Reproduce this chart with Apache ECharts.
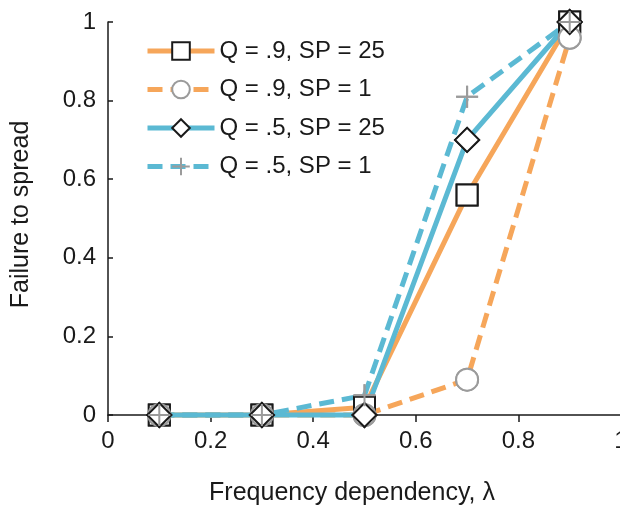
<!DOCTYPE html>
<html>
<head>
<meta charset="utf-8">
<script src="https://cdn.jsdelivr.net/npm/echarts@6/dist/echarts.min.js"></script>
<style>html,body{margin:0;padding:0;background:#fff}#c{width:620px;height:512px}</style>
</head>
<body>
<div id="c"></div>
<script>
// Data
var lambdas = [0.1, 0.3, 0.5, 0.7, 0.9];
var seriesNames = ['Q = .9, SP = 25', 'Q = .9, SP = 1', 'Q = .5, SP = 25', 'Q = .5, SP = 1'];
var q9sp25 = [0, 0, 0.02, 0.56, 1.0];
var q9sp1  = [0, 0, 0, 0.09, 0.96];
var q5sp25 = [0, 0, 0, 0.70, 1.0];
var q5sp1  = [0, 0, 0.05, 0.81, 1.0];
var xTicks = [0, 0.2, 0.4, 0.6, 0.8, 1];
var yTicks = [0, 0.2, 0.4, 0.6, 0.8, 1];

var ORANGE = '#F6A65A', BLUE = '#5BB9D3', GRAY = '#9b9b9b', BLACK = '#1a1a1a';
var PLUS = 'path://M0,-10L0,10M-10,0L10,0';

function pairs(vals){ return lambdas.map(function(x,i){ return [x, vals[i]]; }); }

var defs = [
  {name: seriesNames[0], data: q9sp25, color: ORANGE, dash: 'solid', symbol: 'rect', size: 21, mfill: '#fff', mstroke: BLACK},
  {name: seriesNames[1], data: q9sp1, color: ORANGE, dash: [15, 8], symbol: 'circle', size: 22, mfill: '#fff', mstroke: GRAY},
  {name: seriesNames[2], data: q5sp25, color: BLUE, dash: 'solid', symbol: 'diamond', size: 24, mfill: '#fff', mstroke: BLACK},
  {name: seriesNames[3], data: q5sp1, color: BLUE, dash: [15, 8], symbol: PLUS, size: 22, mfill: 'none', mstroke: GRAY}
];

var series = [];
defs.forEach(function(d){
  series.push({
    type: 'line', name: d.name, data: pairs(d.data), z: 2, clip: false,
    symbol: d.symbol, symbolSize: d.size, showSymbol: true,
    lineStyle: {color: d.color, width: 5, type: d.dash, cap: 'butt'},
    itemStyle: {color: d.mfill, borderColor: d.mstroke, borderWidth: 2},
    emphasis: {disabled: true}, animation: false
  });
});
defs.forEach(function(d){
  series.push({
    type: 'scatter', name: d.name, data: pairs(d.data), z: 3, clip: false,
    symbol: d.symbol, symbolSize: d.size,
    itemStyle: {color: d.mfill, borderColor: d.mstroke, borderWidth: 2, opacity: 1},
    emphasis: {disabled: true}, animation: false
  });
});

var chart = echarts.init(document.getElementById('c'), null, {renderer: 'canvas'});
chart.setOption({
  animation: false,
  backgroundColor: '#fff',
  textStyle: {fontFamily: 'Liberation Sans, Arial, sans-serif'},
  grid: {left: 108, top: 22, width: 513, height: 393, containLabel: false, outerBoundsMode: 'none'},
  legend: {
    data: seriesNames,
    orient: 'vertical', left: 145, top: 39, padding: 0,
    itemWidth: 67, itemHeight: 22, itemGap: 14.5,
    selectedMode: false,
    lineStyle: {width: 5},
    textStyle: {fontSize: 24, color: BLACK, fontFamily: 'Liberation Sans, Arial, sans-serif'}
  },
  xAxis: {
    type: 'value', min: xTicks[0], max: xTicks[xTicks.length-1], interval: 0.2,
    name: 'Frequency dependency, λ', nameLocation: 'middle', nameGap: 66,
    nameTextStyle: {fontSize: 25, color: BLACK, padding: [0, 25, 0, 0]},
    axisLine: {show: true, onZero: false, lineStyle: {color: BLACK, width: 1.5}},
    axisTick: {show: true, inside: false, length: 7, lineStyle: {color: BLACK, width: 1.5}},
    axisLabel: {fontSize: 24, color: BLACK, margin: 14},
    splitLine: {show: false}
  },
  yAxis: {
    type: 'value', min: yTicks[0], max: yTicks[yTicks.length-1], interval: 0.2,
    name: 'Failure to spread', nameLocation: 'middle', nameGap: 74,
    nameTextStyle: {fontSize: 25, color: BLACK, padding: [0, 0, 0, 8]},
    axisLine: {show: true, lineStyle: {color: BLACK, width: 1.5}},
    axisTick: {show: true, inside: true, length: 5, lineStyle: {color: BLACK, width: 1.5}},
    axisLabel: {fontSize: 24, color: BLACK, margin: 12},
    splitLine: {show: false}
  },
  series: series
});
</script>
</body>
</html>
